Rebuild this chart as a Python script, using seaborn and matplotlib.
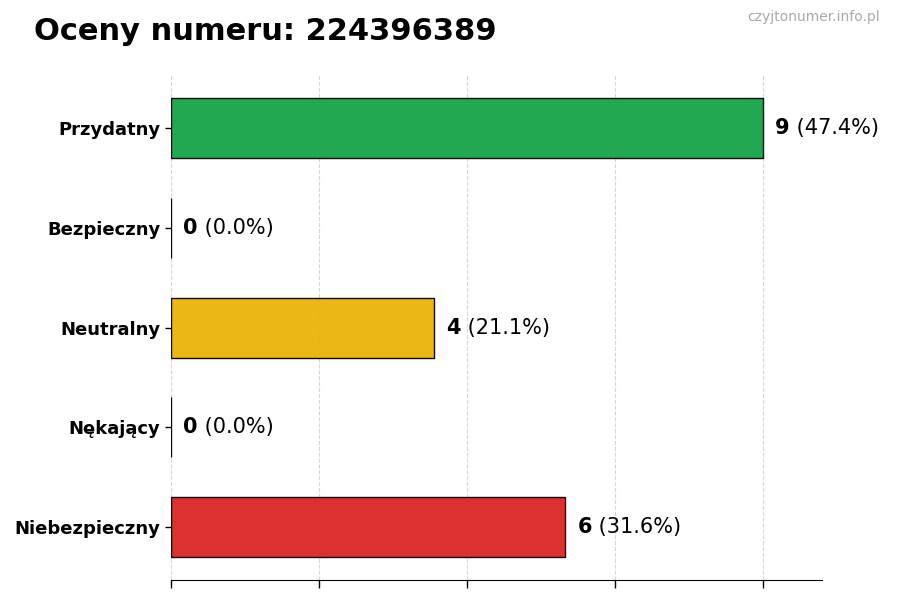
#!/usr/bin/env python3

import matplotlib

matplotlib.use("Agg")

import matplotlib.pyplot as plt
import pandas as pd
import seaborn as sns

categories = ["Przydatny", "Bezpieczny", "Neutralny", "Nękający", "Niebezpieczny"]
counts = [9, 0, 4, 0, 6]
colors = ["#16a34a", "#3b82f6", "#eab308", "#f97316", "#dc2626"]
number = "224396389"


def main():
    sns.set_style("white")
    plt.rcParams["font.family"] = ["DejaVu Sans"]
    plt.rcParams["text.color"] = "black"
    plt.rcParams["ytick.color"] = "black"
    plt.rcParams["xtick.color"] = "black"

    total = sum(counts)
    df = pd.DataFrame({"category": categories, "count": counts})

    fig = plt.figure(figsize=(9, 6), dpi=100)
    ax = fig.add_axes([0.19, 0.033, 0.723, 0.842])

    sns.barplot(
        data=df,
        x="count",
        y="category",
        hue="category",
        palette=dict(zip(categories, colors)),
        saturation=1,
        orient="h",
        width=0.6,
        edgecolor="black",
        linewidth=1,
        alpha=0.95,
        legend=False,
        ax=ax,
    )

    max_count = max(counts)
    ax.set_xlim(0, max_count * 1.1)
    ax.set_ylim(len(categories) - 1 + 0.53, -0.53)
    ax.set_xticks([max_count * i / 4 for i in range(5)])
    ax.set_xticklabels([])
    ax.tick_params(axis="x", bottom=True, length=6, width=1, color="black")
    ax.tick_params(axis="y", left=True, length=4, width=1, color="black")
    ax.grid(axis="x", linestyle="--", color="#cccccc", linewidth=0.8, alpha=0.8)
    ax.set_axisbelow(True)

    for label in ax.get_yticklabels():
        label.set_fontweight("bold")
        label.set_fontsize(13)
        label.set_color("black")

    ax.set_xlabel("")
    ax.set_ylabel("")
    sns.despine(ax=ax, left=True)
    ax.spines["bottom"].set_color("black")

    for i, value in enumerate(counts):
        pct = value / total * 100 if total else 0
        first = ax.annotate(
            f"{value}",
            xy=(value, i),
            xytext=(9, 0),
            textcoords="offset points",
            va="center",
            ha="left",
            fontsize=15,
            fontweight="bold",
            color="black",
        )
        ax.annotate(
            f" ({pct:.1f}%)",
            xy=(1, 0.5),
            xycoords=first,
            va="center",
            ha="left",
            fontsize=15,
            color="black",
        )

    fig.text(0.038, 0.948, f"Oceny numeru: {number}", fontsize=22, fontweight="bold", va="center", color="black")
    fig.text(0.978, 0.972, "czyjtonumer.info.pl", fontsize=10, color="#aaaaaa", ha="right", va="center")

    fig.savefig("out.png", dpi=100)
    plt.close(fig)


if __name__ == "__main__":
    main()
